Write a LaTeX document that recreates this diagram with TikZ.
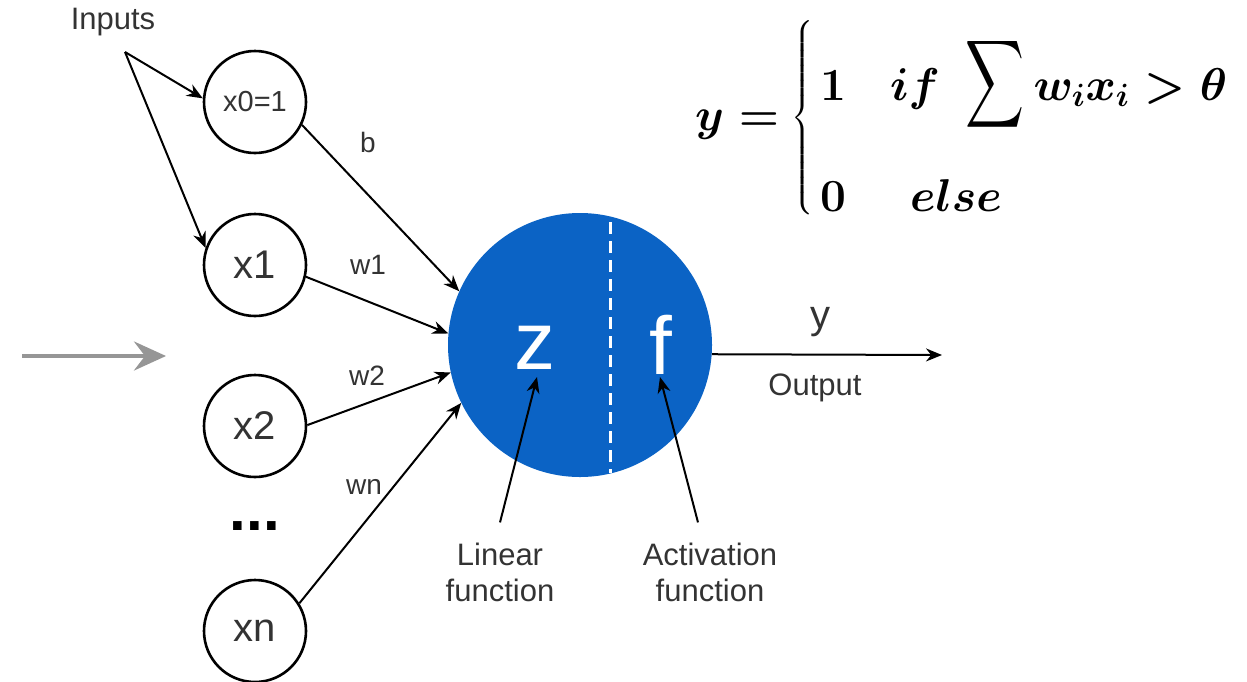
\RequirePackage{fix-cm}
\documentclass[tikz,border=0pt]{standalone}
\usepackage{amsmath}
\usepackage{graphicx}
\usepackage{fontspec}
\newfontfamily\arial{Liberation Sans}
\usetikzlibrary{arrows.meta}
\definecolor{nblue}{RGB}{11,99,197}
\definecolor{txt}{RGB}{51,51,51}
\definecolor{garr}{RGB}{150,150,150}
\newcommand\bigsum{\raisebox{-33pt}{\resizebox*{59pt}{98pt}{\raisebox{\depth}{$\displaystyle\sum$}}}}
\tikzset{
  inp/.style={circle,draw=black,line width=2.6pt,minimum size=102pt,inner sep=0pt,text=txt,font=\arial\fontsize{40}{44}\selectfont},
  lbl/.style={text=txt,font=\arial\fontsize{28}{32}\selectfont,inner sep=0pt},
  captxt/.style={text=txt,font=\arial\fontsize{31}{36}\selectfont,align=center,inner sep=0pt},
  arr/.style={draw=black,line width=2pt,-{Stealth[length=16pt,width=13pt]}},
  eqtxt/.style={inner sep=0pt,anchor=base west,font=\fontsize{46}{52}\selectfont\boldmath},
}
\begin{document}
\begin{tikzpicture}[x=1pt,y=-1pt]
\useasboundingbox (0,0) rectangle (1247,681);
% inputs
\node[lbl,font=\arial\fontsize{31}{36}\selectfont] (inputs) at (113,22) {Inputs};
\coordinate (ap) at (125,52);
\node[inp,font=\arial\fontsize{29}{32}\selectfont] (x0) at (255,102) {x0=1};
\node[inp] (x1) at (255,265) {x1};
\node[inp] (x2) at (255,426) {x2};
\node[inp] (xn) at (255,631) {xn};
\node[text=black,font=\arial\bfseries\fontsize{60}{60}\selectfont,inner sep=0pt] (dots) at (255,526) {...};
% neuron
\node[circle,fill=nblue,minimum size=264pt,inner sep=0pt] (N) at (580,345) {};
\draw[white,line width=3pt,dash pattern=on 12pt off 7pt] (610,222) -- (610,473);
\node[text=white,font=\arial\fontsize{82}{82}\selectfont,inner sep=0pt] (zt) at (535,348) {z};
\node[text=white,font=\arial\fontsize{82}{82}\selectfont,inner sep=0pt] (ft) at (661,345) {f};
% arrows from Inputs
\draw[arr] (ap) -- (x0.176);
\draw[arr] (ap) -- (x1.161);
% weighted connections
\draw[arr] (x0.-26) -- (N.156);
\draw[arr] (x1.-13) -- (N.175);
\draw[arr] (x2.1) -- (N.-168);
\draw[arr] (xn.32) -- (N.-154);
\node[lbl] (lb) at (368,142) {b};
\node[lbl] (lw1) at (368,265) {w1};
\node[lbl] (lw2) at (367,376) {w2};
\node[lbl] (lwn) at (364,487) {wn};
% gray arrow
\coordinate (g1) at (22,356);
\coordinate (g2) at (166,356);
\draw[garr,line width=4pt,-{Stealth[length=32pt,width=29pt,inset=11pt]}] (g1) -- (g2);
% output
\coordinate (out) at (942,355);
\draw[arr] (N.-4.3) -- (out);
\node[lbl,font=\arial\fontsize{40}{44}\selectfont] (ylab) at (820,322) {y};
\node[captxt] (outlab) at (815,388) {Output};
% captions
\node[captxt] (lin) at (500,572) {Linear\\function};
\node[captxt] (act) at (710,572) {Activation\\function};
\coordinate (ztip) at (537,377);
\coordinate (ftip) at (660,377);
\draw[arr] ([yshift=20pt]lin.north) -- (ztip);
\draw[arr] ([xshift=-12pt,yshift=20pt]act.north) -- (ftip);
% formula
\node[eqtxt] (eqy) at (695,130) {$y=$};
\node[inner sep=0pt,font=\fontsize{46}{52}\selectfont] (brace) at (803,118) {$\left\{\vcenter{\hbox{\rule{0pt}{192pt}}}\right.$};
\node[eqtxt] (row1) at (820,100) {$1\hspace{44pt}if\hspace{26pt}\bigsum\,w_ix_i>\theta$};
\node[eqtxt] (row2) at (820,211) {$0\hspace{64pt}else$};
\end{tikzpicture}
\end{document}
